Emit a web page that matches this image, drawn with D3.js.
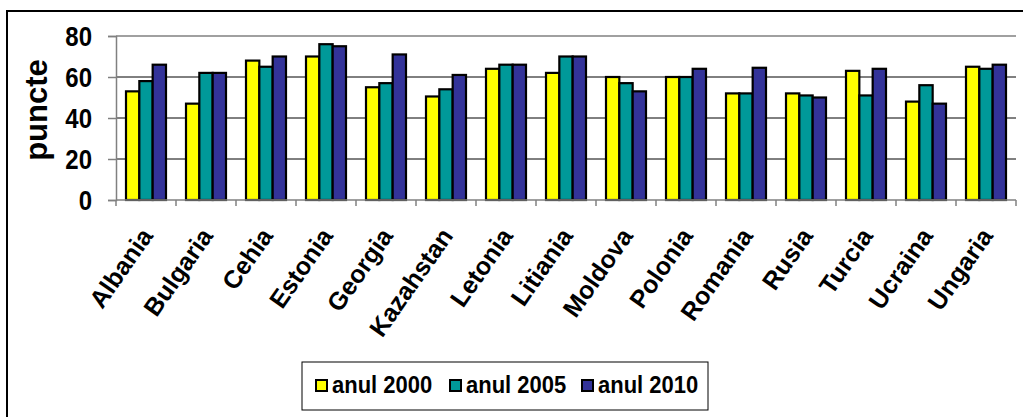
<!DOCTYPE html>
<html>
<head>
<meta charset="utf-8">
<script src="https://cdn.jsdelivr.net/npm/d3@7"></script>
<style>
  body { margin: 0; background: #fff; }
  text { font-family: Arial, "Liberation Sans", sans-serif; font-weight: bold; fill: #000; }
</style>
</head>
<body>
<div id="chart"></div>
<script>
// data
var countries = ["Albania", "Bulgaria", "Cehia", "Estonia", "Georgia", "Kazahstan", "Letonia",
  "Litiania", "Moldova", "Polonia", "Romania", "Rusia", "Turcia", "Ucraina", "Ungaria"]
var seriesNames = ["anul 2000", "anul 2005", "anul 2010"]
var an2000 = [53, 47, 68, 70, 55, 50.5, 64, 62, 60, 60, 52, 52, 63, 48, 65]
var an2005 = [58, 62, 65, 76, 57, 54, 66, 70, 57, 60, 52, 51, 51, 56, 64]
var an2010 = [66, 62, 70, 75, 71, 61, 66, 70, 53, 64, 64.5, 50, 64, 47, 66]
var yTicks = [0, 20, 40, 60, 80]
var colors = ["#ffff00", "#009999", "#333399"]

var W = 1023, H = 417
var plot = { left: 116, right: 1016, top: 36, bottom: 200 }

var svg = d3.select("#chart").append("svg")
  .attr("width", W)
  .attr("height", H)

// outer chart border
svg.append("rect")
  .attr("x", 7).attr("y", 11)
  .attr("width", 1040).attr("height", 440)
  .attr("fill", "none")
  .attr("stroke", "#000")
  .attr("stroke-width", 2)

//////////////////////////// scales ////////////////////////////
var x = d3.scaleBand().domain(countries).range([plot.left, plot.right])
var bw = x.bandwidth()
var xs = d3.scaleBand().domain(seriesNames).range([bw / 6, bw * 5 / 6])
var y = d3.scaleLinear().domain([0, 80]).range([plot.bottom, plot.top])

//////////////////////////// grid ////////////////////////////
svg.append("g").selectAll("line")
  .data(yTicks.filter(function(d) { return d > 0 }))
  .enter().append("line")
    .attr("x1", plot.left).attr("x2", plot.right)
    .attr("y1", function(d) { return y(d) }).attr("y2", function(d) { return y(d) })
    .attr("stroke", function(d) { return d === 80 ? "#808080" : "#000" })
    .attr("stroke-width", function(d) { return d === 80 ? 1.5 : 1 })

//////////////////////////// bars ////////////////////////////
var rows = countries.map(function(c, i) {
  return { country: c, values: [an2000[i], an2005[i], an2010[i]] }
})

var groups = svg.append("g").selectAll("g")
  .data(rows)
  .enter().append("g")
    .attr("transform", function(d) { return "translate(" + x(d.country) + ",0)" })

groups.selectAll("rect")
  .data(function(d) { return d.values.map(function(v, j) { return { s: seriesNames[j], v: v, j: j } }) })
  .enter().append("rect")
    .attr("x", function(d) { return xs(d.s) })
    .attr("width", xs.bandwidth())
    .attr("y", function(d) { return y(d.v) })
    .attr("height", function(d) { return y(0) - y(d.v) })
    .attr("fill", function(d) { return colors[d.j] })
    .attr("stroke", "#000")
    .attr("stroke-width", 2.2)

//////////////////////////// axes ////////////////////////////
var yAxis = svg.append("g")
  .attr("transform", "translate(" + plot.left + ",0)")
  .call(d3.axisLeft(y).tickValues(yTicks).tickSize(8).tickFormat(d3.format("d")))
yAxis.select(".domain").attr("stroke", "#808080").attr("stroke-width", 1.5)
yAxis.selectAll(".tick line").attr("stroke", "#808080").attr("stroke-width", 1.5)
yAxis.selectAll(".tick text")
  .attr("x", null)
  .attr("dy", null)
  .attr("transform", "translate(-24,9) scale(1,1.12)")
  .attr("font-size", 24)
  .attr("font-family", "Arial, 'Liberation Sans', sans-serif")
  .attr("font-weight", "bold")

var xAxis = svg.append("g")
  .attr("transform", "translate(0," + plot.bottom + ")")
xAxis.append("line")
  .attr("x1", plot.left).attr("x2", plot.right)
  .attr("stroke", "#808080").attr("stroke-width", 1.5)
xAxis.selectAll(".xtick")
  .data(d3.range(countries.length + 1))
  .enter().append("line")
    .attr("class", "xtick")
    .attr("x1", function(i) { return plot.left + i * bw })
    .attr("x2", function(i) { return plot.left + i * bw })
    .attr("y1", 0).attr("y2", 6)
    .attr("stroke", "#808080").attr("stroke-width", 1.5)

// labels are slanted at about 55 degrees in the reference
xAxis.selectAll(".xlabel")
  .data(countries)
  .enter().append("text")
    .attr("class", "xlabel")
    .attr("transform", function(d) {
      return "translate(" + (x(d) + bw / 2 + 8) + ",36) rotate(-55)"
    })
    .attr("text-anchor", "end")
    .attr("font-size", 25)
    .text(function(d) { return d })

// axis title
svg.append("text")
  .attr("transform", "translate(47,110) rotate(-90)")
  .attr("text-anchor", "middle")
  .attr("font-size", 31)
  .text("puncte")

//////////////////////////// legend ////////////////////////////
var legend = svg.append("g")
legend.append("rect")
  .attr("x", 302).attr("y", 362)
  .attr("width", 406).attr("height", 48)
  .attr("fill", "#fff")
  .attr("stroke", "#000")
  .attr("stroke-width", 1)

var legX = [316, 450, 582]
var items = legend.selectAll(".item")
  .data(seriesNames)
  .enter().append("g")
    .attr("class", "item")
    .attr("transform", function(d, i) { return "translate(" + legX[i] + ",380)" })
items.append("rect")
  .attr("width", 11).attr("height", 11)
  .attr("fill", function(d, i) { return colors[i] })
  .attr("stroke", "#000")
  .attr("stroke-width", 2)
items.append("text")
  .attr("transform", "translate(16,13) scale(1,1.12)")
  .attr("font-size", 22)
  .text(function(d) { return d })
</script>
</body>
</html>
